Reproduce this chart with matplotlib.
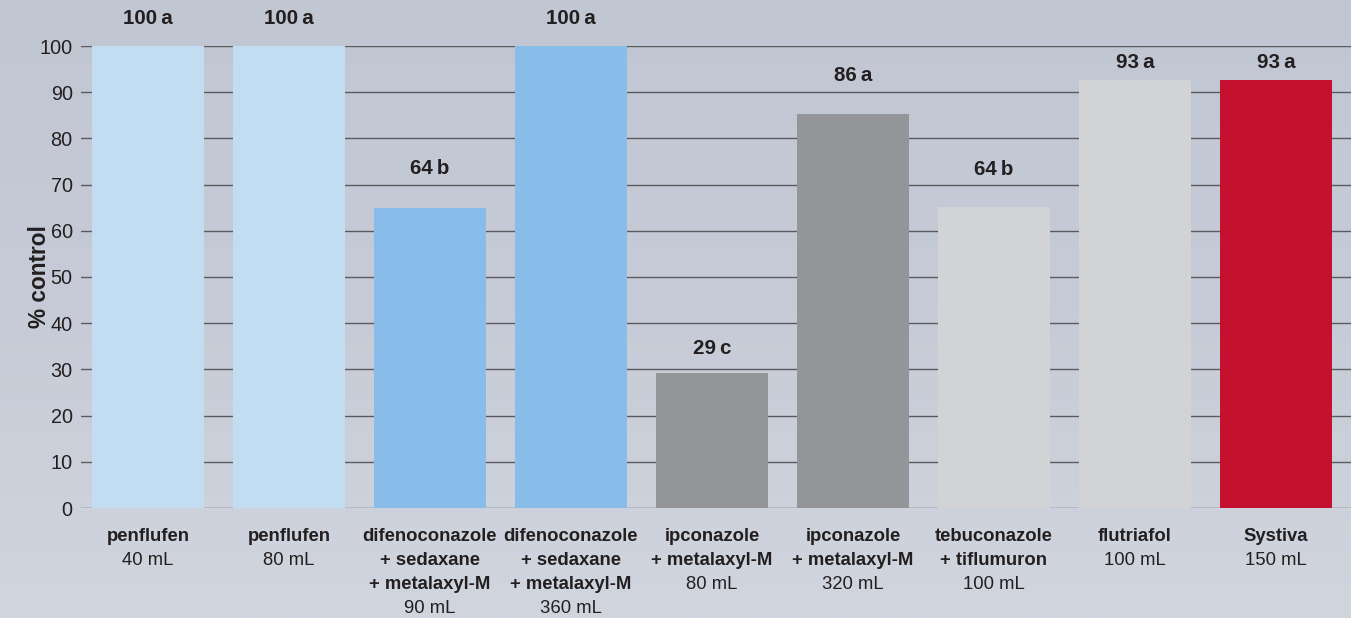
import matplotlib
matplotlib.use("Agg")
import matplotlib.pyplot as plt
import numpy as np
from matplotlib.colors import LinearSegmentedColormap

# ---------------- data ----------------
categories = [
    ["penflufen"],
    ["penflufen"],
    ["difenoconazole", "+ sedaxane", "+ metalaxyl-M"],
    ["difenoconazole", "+ sedaxane", "+ metalaxyl-M"],
    ["ipconazole", "+ metalaxyl-M"],
    ["ipconazole", "+ metalaxyl-M"],
    ["tebuconazole", "+ tiflumuron"],
    ["flutriafol"],
    ["Systiva"],
]
doses = ["40 mL", "80 mL", "90 mL", "360 mL", "80 mL", "320 mL", "100 mL", "100 mL", "150 mL"]
values = [100, 100, 65.0, 100, 29.3, 85.3, 65.2, 92.6, 92.6]
value_labels = ["100\u2009a", "100\u2009a", "64\u2009b", "100\u2009a", "29\u2009c", "86\u2009a",
                "64\u2009b", "93\u2009a", "93\u2009a"]
yticks = [0, 10, 20, 30, 40, 50, 60, 70, 80, 90, 100]
ylabel = "% control"

# ---------------- style ----------------
colors = ["#c2ddf2", "#c2ddf2", "#87bde8", "#87bde8", "#939598", "#939598",
          "#d1d3d4", "#d1d3d4", "#c41130"]
label_offsets = [6.0, 6.0, 8.5, 6.0, 5.3, 8.4, 8.1, 3.9, 3.9]  # data units above bar
plt.rcParams['font.family'] = ['Liberation Sans', 'DejaVu Sans']
txt_color = "#231f20"

W, H = 1351, 618
fig = plt.figure(figsize=(W / 100, H / 100), dpi=100)

# background gradient
bg = fig.add_axes([0, 0, 1, 1], zorder=-10)
cmap = LinearSegmentedColormap.from_list("bg", ["#c1c6d3", "#c6cbd7", "#d1d5de"])
grad = np.linspace(0, 1, 256).reshape(-1, 1)
bg.imshow(grad, aspect="auto", cmap=cmap, extent=[0, 1, 0, 1], origin="upper")
bg.axis("off")

left_px, right_px = 81, 1351
bottom_px, top_px = 508, 46
ax = fig.add_axes([left_px / W, 1 - bottom_px / H, (right_px - left_px) / W, (bottom_px - top_px) / H])
ax.patch.set_alpha(0)

x = np.arange(len(values))
for yv in yticks:
    ax.axhline(yv, color="#5a5b5f", lw=1.0, zorder=1)
ax.bar(x, values, width=112 / 141, color=colors, zorder=2)

ax.set_xlim(-0.475, 8.532)
ax.set_ylim(0, 100)
ax.set_yticks(yticks)
ax.set_yticklabels([str(t) for t in yticks], fontsize=14.3, color=txt_color)
ax.tick_params(axis="y", length=0, pad=6)
ax.set_xticks([])
for s in ax.spines.values():
    s.set_visible(False)

for i, (v, lab, off) in enumerate(zip(values, value_labels, label_offsets)):
    ax.text(i, v + off, lab, ha="center", va="center", fontsize=14.8,
            fontweight="bold", color=txt_color, clip_on=False)

# category labels below axis
line_step = 17.4  # points
first_off = 20.5
for i, (lines, dose) in enumerate(zip(categories, doses)):
    allines = [(l, "bold") for l in lines] + [(dose, "normal")]
    for j, (t, w) in enumerate(allines):
        ax.annotate(t, xy=(i, 0), xycoords=("data", "axes fraction"),
                    xytext=(0, -(first_off + j * line_step)), textcoords="offset points",
                    ha="center", va="center", fontsize=13.3, fontweight=w,
                    color=txt_color, annotation_clip=False)

fig.text(40 / W, 1 - 277 / H, ylabel, rotation=90, ha="center", va="center",
         fontsize=16.3, fontweight="bold", color=txt_color)

fig.savefig("out.png", dpi=100)
